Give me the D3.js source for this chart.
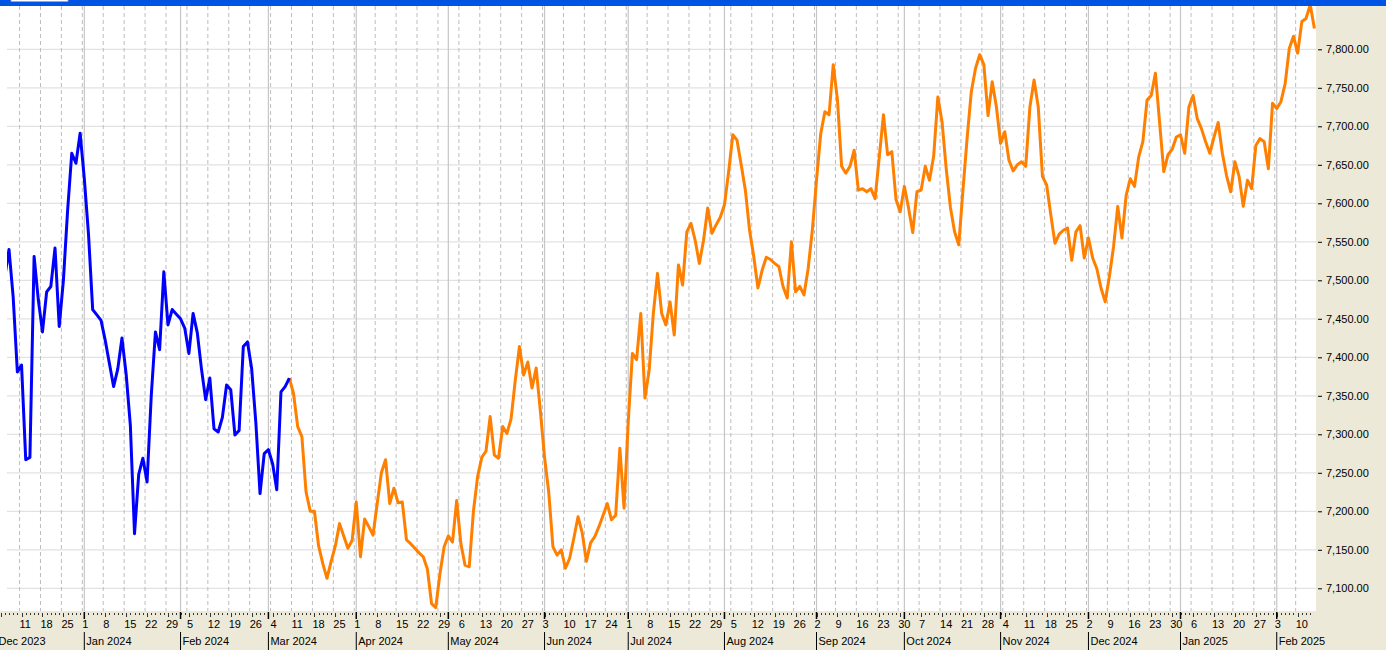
<!DOCTYPE html>
<html>
<head>
<meta charset="utf-8">
<script src="https://cdn.jsdelivr.net/npm/d3@7"></script>
<style>
    html, body { margin: 0; padding: 0; background: #ffffff; }
    svg { display: block; font-family: "Liberation Sans", Arial, sans-serif; font-size: 11px; }
</style>
</head>
<body>
<div id="chart"></div>
<script>
"use strict";

//
/* Data: one value per weekday, starting at the given date */
//

// Historical series (blue)
var histStart = "2023-12-05";
var histValues = [
    7505, 7540, 7478, 7381, 7390, 7267, 7270, 7531, 7475, 7433,
    7485, 7492, 7542, 7440, 7500, 7590, 7665, 7652, 7691, 7632,
    7560, 7462, 7455, 7448, 7422, 7392, 7362, 7385, 7425, 7378,
    7312, 7171, 7248, 7269, 7238, 7350, 7433, 7410, 7511, 7442,
    7462, 7456, 7450, 7438, 7405, 7457, 7432, 7385, 7345, 7373,
    7307, 7303, 7322, 7364, 7358, 7299, 7305, 7414, 7420, 7385,
    7315, 7223, 7275, 7280, 7262, 7228, 7355, 7362, 7373
];

// Projected series (orange)
var projStart = "2024-03-08";
var projValues = [
    7373, 7353, 7310, 7297, 7225, 7200, 7200, 7155, 7132, 7113,
    7135, 7155, 7184, 7168, 7152, 7162, 7212, 7141, 7190, 7180,
    7169, 7210, 7250, 7267, 7210, 7230, 7211, 7212, 7163, 7158,
    7152, 7146, 7141, 7125, 7080, 7075, 7119, 7154, 7168, 7160,
    7214, 7158, 7130, 7128, 7200, 7245, 7270, 7278, 7323, 7273,
    7269, 7310, 7301, 7320, 7370, 7414, 7377, 7394, 7360, 7386,
    7330, 7270, 7225, 7154, 7143, 7150, 7126, 7139, 7165, 7193,
    7172, 7135, 7159, 7167, 7180, 7195, 7210, 7189, 7195, 7282,
    7204, 7316, 7405, 7397, 7457, 7347, 7383, 7457, 7509, 7457,
    7442, 7472, 7429, 7520, 7494, 7563, 7574, 7552, 7522, 7552,
    7594, 7561, 7572, 7582, 7598, 7641, 7689, 7682, 7650, 7617,
    7565, 7531, 7490, 7513, 7530, 7527, 7522, 7518, 7492, 7477,
    7550, 7485, 7492, 7481, 7515, 7565, 7630, 7690, 7719, 7715,
    7780, 7735, 7648, 7639, 7648, 7669, 7617, 7619, 7615, 7619,
    7606, 7660, 7715, 7663, 7667, 7605, 7589, 7622, 7594, 7562,
    7615, 7617, 7648, 7630, 7661, 7738, 7706, 7645, 7595, 7563,
    7546, 7617, 7685, 7745, 7775, 7793, 7780, 7714, 7758, 7725,
    7678, 7693, 7656, 7642, 7650, 7654, 7648, 7725, 7760, 7725,
    7635, 7624, 7585, 7548, 7560, 7565, 7568, 7526, 7563, 7571,
    7529, 7555, 7529, 7515, 7490, 7472, 7505, 7544, 7596, 7555,
    7610, 7632, 7622, 7660, 7680, 7734, 7740, 7769, 7705, 7641,
    7663, 7670, 7686, 7689, 7665, 7725, 7740, 7710, 7697, 7680,
    7665, 7686, 7705, 7665, 7636, 7615, 7654, 7635, 7596, 7630,
    7619, 7675, 7684, 7680, 7645, 7730, 7723, 7732, 7755, 7801,
    7817, 7795, 7836, 7840, 7858, 7827
];

// Y axis tick values
var yTicks = [7100, 7150, 7200, 7250, 7300, 7350, 7400, 7450, 7500, 7550, 7600, 7650, 7700, 7750, 7800];

// Axis range of dates
var axisFirst = "2023-11-27";
var axisLast = "2025-02-21";


//
/* Layout: */
//
var width = 1386;
var height = 650;

var plot = { left: 7, top: 6, right: 1316, bottom: 611 };

var parseDate = d3.utcParse("%Y-%m-%d");
var baseMonday = parseDate("2023-12-04");

// weekday count from baseMonday (weekends collapsed)
var weekdayIndex = function(d)
{
    var days = Math.round((d - baseMonday) / 864e5);
    var weeks = Math.floor(days / 7);
    var rest = days - weeks * 7;
    return weeks * 5 + Math.min(rest, 5);
}

var weekdaysFrom = function(start, n)
{
    var out = [];
    var d = parseDate(start);
    while (out.length < n)
    {
        var wd = d.getUTCDay();
        if (wd !== 0 && wd !== 6)
            out.push(d);
        d = d3.utcDay.offset(d, 1);
    }
    return out;
}

var toPoints = function(start, values)
{
    var dates = weekdaysFrom(start, values.length);
    return values.map(function(v, i) { return { date: dates[i], value: v }; });
}

var histData = toPoints(histStart, histValues);
var projData = toPoints(projStart, projValues);

var xScale = d3.scaleLinear()
        .domain([2, 314])
        .range([9, 1314.4]);

var yScale = d3.scaleLinear()
        .domain([7100, 7800])
        .range([588.3, 49.3]);

var xOf = function(d) { return xScale(weekdayIndex(d)); };

// all weekdays, mondays and month starts shown on the time axis
var allDays = d3.utcDays(parseDate(axisFirst), parseDate(axisLast))
        .filter(function(d) { return d.getUTCDay() !== 0 && d.getUTCDay() !== 6; });

var mondays = allDays.filter(function(d) { return d.getUTCDay() === 1; });

var monthStarts = allDays.filter(function(d, i)
{
    return i > 0 && d.getUTCMonth() !== allDays[i - 1].getUTCMonth();
});


//
/* Drawing: */
//
var svg = d3.select("#chart").append("svg")
        .attr("width", width)
        .attr("height", height);

svg.append("defs").append("clipPath")
        .attr("id", "plotClip")
    .append("rect")
        .attr("x", plot.left)
        .attr("y", plot.top)
        .attr("width", plot.right - plot.left)
        .attr("height", plot.bottom - plot.top);

// panels
svg.append("rect")
        .attr("x", 0).attr("y", 0)
        .attr("width", width).attr("height", height)
        .attr("fill", "#ffffff");

svg.append("rect")
        .attr("x", plot.right).attr("y", 0)
        .attr("width", width - plot.right).attr("height", height)
        .attr("fill", "#ece9d8");

svg.append("rect")
        .attr("x", 0).attr("y", plot.bottom)
        .attr("width", width).attr("height", height - plot.bottom)
        .attr("fill", "#ece9d8");

// grid
var grid = svg.append("g").attr("clip-path", "url(#plotClip)");

grid.selectAll(".hgrid")
        .data(yTicks).enter()
        .append("line")
        .attr("class", "hgrid")
        .attr("x1", plot.left)
        .attr("x2", plot.right)
        .attr("y1", function(d) { return yScale(d); })
        .attr("y2", function(d) { return yScale(d); })
        .attr("stroke", "#e2e2e2")
        .attr("stroke-width", 1.2);

grid.selectAll(".wgrid")
        .data(mondays).enter()
        .append("line")
        .attr("class", "wgrid")
        .attr("x1", function(d) { return xOf(d) - 2; })
        .attr("x2", function(d) { return xOf(d) - 2; })
        .attr("y1", plot.top)
        .attr("y2", plot.bottom)
        .attr("stroke", "#bdbdbd")
        .attr("stroke-width", 1)
        .attr("stroke-dasharray", "4,3");

grid.selectAll(".mgrid")
        .data(monthStarts).enter()
        .append("line")
        .attr("class", "mgrid")
        .attr("x1", function(d) { return xOf(d); })
        .attr("x2", function(d) { return xOf(d); })
        .attr("y1", plot.top)
        .attr("y2", plot.bottom)
        .attr("stroke", "#c6c6c6")
        .attr("stroke-width", 1.2);

// series
var line = d3.line()
        .x(function(d) { return xOf(d.date); })
        .y(function(d) { return yScale(d.value); });

var lines = svg.append("g").attr("clip-path", "url(#plotClip)");

lines.append("path")
        .datum(projData)
        .attr("d", line)
        .attr("fill", "none")
        .attr("stroke", "#ff8000")
        .attr("stroke-width", 3)
        .attr("stroke-linejoin", "round");

lines.append("path")
        .datum(histData)
        .attr("d", line)
        .attr("fill", "none")
        .attr("stroke", "#0000ff")
        .attr("stroke-width", 3)
        .attr("stroke-linejoin", "round");

// top bar
svg.append("rect")
        .attr("x", 0).attr("y", 0)
        .attr("width", width).attr("height", plot.top)
        .attr("fill", "#0054e3");

svg.append("rect")
        .attr("x", 11).attr("y", -1)
        .attr("width", 57).attr("height", 2.6)
        .attr("fill", "#ffffff")
        .attr("stroke", "#9aa6b6")
        .attr("stroke-width", 0.8);

// y axis on the right
var yAxis = d3.axisRight(yScale)
        .tickValues(yTicks)
        .tickSize(4)
        .tickPadding(4)
        .tickFormat(d3.format(",.2f"));

var yAxisG = svg.append("g")
        .attr("transform", "translate(" + (plot.right + 2) + ",0)")
        .call(yAxis);

yAxisG.select(".domain").remove();
yAxisG.selectAll("text")
        .attr("fill", "#000000")
        .style("font-size", "11px")
        .style("font-family", "\"Liberation Sans\", Arial, sans-serif");
yAxisG.selectAll(".tick line").attr("stroke", "#000000");

// time axis at the bottom
var xAxisG = svg.append("g");

var visible = function(d) { var x = xOf(d); return x > plot.left - 12 && x < plot.right - 2; };

xAxisG.selectAll(".dtick")
        .data(allDays.filter(visible)).enter()
        .append("line")
        .attr("class", "dtick")
        .attr("x1", function(d) { return Math.round(xOf(d)) + 0.5; })
        .attr("x2", function(d) { return Math.round(xOf(d)) + 0.5; })
        .attr("y1", plot.bottom + 2)
        .attr("y2", function(d) { return d.getUTCDay() === 1 ? plot.bottom + 6 : plot.bottom + 4; })
        .attr("stroke", "#333333")
        .attr("stroke-width", 1);

xAxisG.selectAll(".mtick")
        .data(monthStarts.filter(visible)).enter()
        .append("line")
        .attr("class", "mtick")
        .attr("x1", function(d) { return xOf(d); })
        .attr("x2", function(d) { return xOf(d); })
        .attr("y1", plot.bottom + 1)
        .attr("y2", plot.bottom + 8)
        .attr("stroke", "#000000")
        .attr("stroke-width", 1.5);

// day numbers start at the weekly grid line
xAxisG.selectAll(".dayLabel")
        .data(mondays.filter(function(d) { return xOf(d) > plot.left + 4 && xOf(d) < plot.right; })).enter()
        .append("text")
        .attr("class", "dayLabel")
        .attr("x", function(d) { return xOf(d) - 2; })
        .attr("y", 628)
        .attr("text-anchor", "start")
        .attr("fill", "#000000")
        .text(function(d) { return d.getUTCDate(); });

var fmtMonth = d3.utcFormat("%b %Y");

xAxisG.selectAll(".monthBar")
        .data(monthStarts).enter()
        .append("line")
        .attr("class", "monthBar")
        .attr("x1", function(d) { return xOf(d); })
        .attr("x2", function(d) { return xOf(d); })
        .attr("y1", 632)
        .attr("y2", 650)
        .attr("stroke", "#000000")
        .attr("stroke-width", 1);

xAxisG.selectAll(".monthLabel")
        .data(monthStarts).enter()
        .append("text")
        .attr("class", "monthLabel")
        .attr("x", function(d) { return xOf(d) + 2; })
        .attr("y", 645)
        .attr("fill", "#000000")
        .text(function(d) { return fmtMonth(d); });
</script>
</body>
</html>
